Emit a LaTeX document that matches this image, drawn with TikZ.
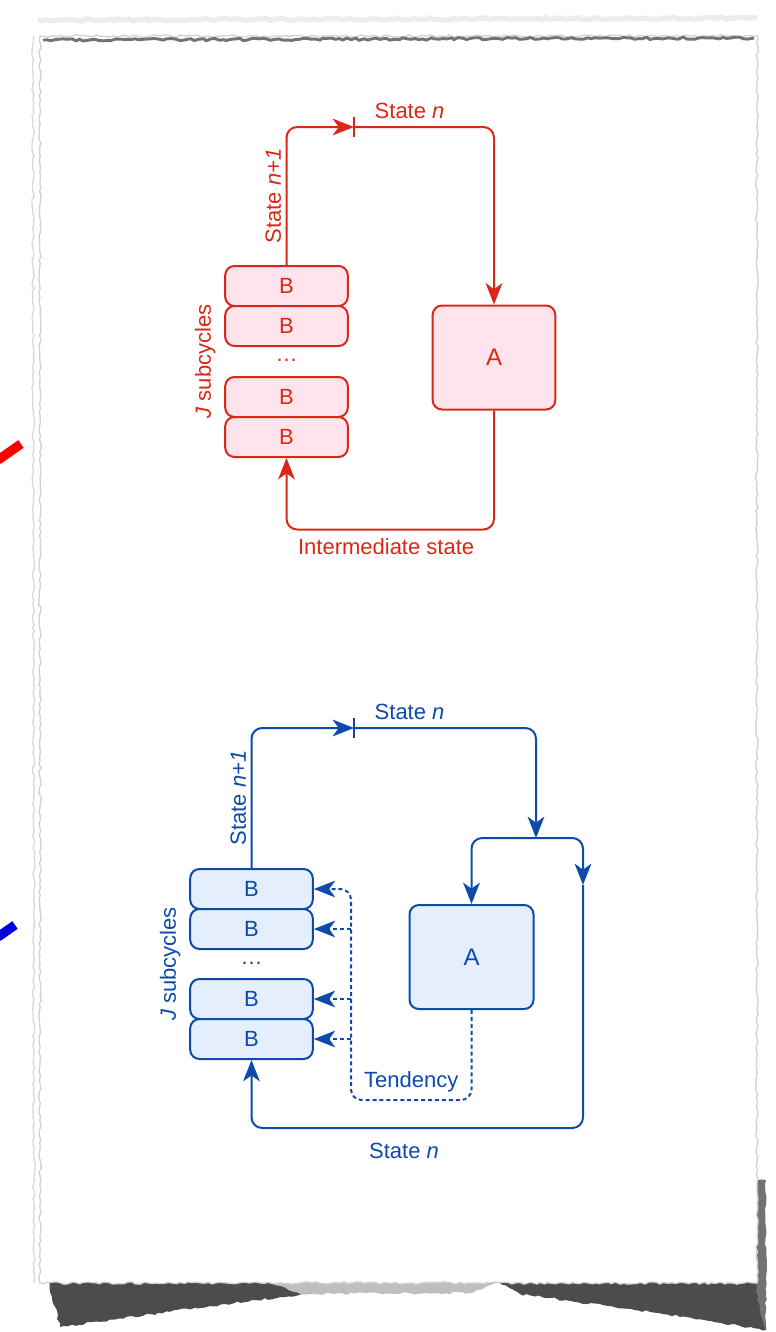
\documentclass[tikz,border=0pt]{standalone}
\usepackage{fontspec}
\setmainfont{Liberation Sans}
\usepackage{xcolor}
\usetikzlibrary{arrows.meta}
\usetikzlibrary{calc}
\usetikzlibrary{positioning}
\usetikzlibrary{decorations.pathmorphing}
\definecolor{rd}{RGB}{218,40,22}
\definecolor{rdfill}{RGB}{255,228,238}
\definecolor{bl}{RGB}{14,74,170}
\definecolor{blfill}{RGB}{228,238,252}

\begin{document}
\begin{tikzpicture}[x=0.75pt,y=-0.75pt,
  font=\fontsize{16.5}{19}\selectfont,
  tip/.style={-{Stealth[length=16pt,width=12.5pt,inset=4.5pt]}},
  rline/.style={draw=rd,line width=1.5pt,rounded corners=8pt},
  bline/.style={draw=bl,line width=1.5pt,rounded corners=8pt},
  bdash/.style={bline,dash pattern=on 3pt off 2.2pt},
  rbox/.style={draw=rd,fill=rdfill,text=rd,line width=1.5pt,rounded corners=7pt,inner sep=0pt,minimum width=92pt,minimum height=30pt},
  bbox/.style={rbox,draw=bl,fill=blfill,text=bl},
  rough/.style={decorate,decoration={random steps,segment length=3pt,amplitude=0.9pt}}]
  \pgfmathsetseed{11}
  \useasboundingbox (0,0) rectangle (775,1332);
  % torn sheet and its shadow
  \fill[black!70,rough] (48,1280) -- (280,1282) -- (340,1290) -- (210,1306) -- (60,1327) -- cycle;
  \fill[black!25,rough] (270,1282) -- (500,1282) -- (470,1293) -- (300,1294) -- cycle;
  \fill[black!70,rough] (495,1281) -- (762,1276) -- (766,1330) -- (650,1312) -- (520,1294) -- cycle;
  \fill[black!55,rough] (757,1180) -- (766,1180) -- (766,1330) -- (757,1300) -- cycle;
  \draw[gray!35,line width=1pt,fill=white,rough] (40,36) rectangle (757,1283);
  \draw[gray!15,line width=4pt,rough] (38,20) -- (757,18);
  \draw[black!55,line width=2.2pt,rough] (43,40) -- (754,38);
  \draw[gray!30,line width=1pt,rough] (33,36) -- (34,1283);
  \draw[red,line width=7pt] (-2,460) -- (21,444);
  \draw[blue!85!black,line width=7pt] (-2,937) -- (15,925);

  % red cycle
  \node[rbox] (rb1) at (286.5,286) {B};
  \node[rbox] (rb2) at (286.5,326) {B};
  \node[text=rd] (rdots) at (286.5,360) {\dots};
  \node[rbox] (rb3) at (286.5,397) {B};
  \node[rbox] (rb4) at (286.5,437) {B};
  \node[rbox,minimum height=78pt] (rA) at (494,357.5) {\fontsize{18}{20}\selectfont A};
  \coordinate (rtick) at (354,127);
  \node[text=rd,rotate=90,anchor=south] (rJ) at ($(rb2.west)!0.5!(rb3.west)+(-4,0)$) {\textit{J} subcycles};
  \draw[rline,tip] (rb1.north) |- node[pos=0.25,anchor=south,rotate=90,text=rd] {State \textit{n+1}} (rtick);
  \draw[rline] (rtick) ++(0,-10) -- ++(0,20);
  \draw[rline,tip] (rtick) -| (rA.north);
  \node[text=rd,above right=3pt and 12pt of rtick] (rstate) {State \textit{n}};
  \draw[rline,tip] (rA.south) -- ++(0,119) -| node[pos=0.26,below=3pt,text=rd] {Intermediate state} (rb4.south);

  % blue cycle
  \node[bbox] (bb1) at (251.5,889) {B};
  \node[bbox] (bb2) at (251.5,929) {B};
  \node[text=bl] (bdots) at (251.5,963) {\dots};
  \node[bbox] (bb3) at (251.5,999) {B};
  \node[bbox] (bb4) at (251.5,1039) {B};
  \node[bbox,minimum height=78pt,minimum width=93pt] (bA) at (471.5,957) {\fontsize{18}{20}\selectfont A};
  \coordinate (btick) at (354,728);
  \coordinate (bsplit) at (536,838);
  \coordinate (bmid) at (583,885);
  \coordinate (bjoin) at (351,889);
  \node[text=bl,rotate=90,anchor=south] (bJ) at ($(bb2.west)!0.5!(bb3.west)+(-4,0)$) {\textit{J} subcycles};
  \draw[bline,tip] (bb1.north) |- node[pos=0.25,anchor=south,rotate=90,text=bl] {State \textit{n+1}} (btick);
  \draw[bline] (btick) ++(0,-10) -- ++(0,20);
  \draw[bline,tip] (btick) -| (bsplit);
  \node[text=bl,above right=3pt and 12pt of btick] (bstate) {State \textit{n}};
  \draw[bline,tip] (bsplit) -| (bA.north);
  \draw[bline,tip] (bsplit) -| (bmid);
  \draw[bline,tip] (bmid) -- ++(0,243) -| node[pos=0.27,below=7pt,text=bl] {State \textit{n}} (bb4.south);
  \draw[bdash,tip] (bA.south) -- ++(0,90) -| node[pos=0.25,above=2pt,text=bl] {Tendency} (bjoin) -- (bb1.east);
  \foreach \b in {bb2,bb3,bb4}
    \draw[bdash,tip] (bjoin |- \b.east) -- (\b.east);
\end{tikzpicture}
\end{document}
